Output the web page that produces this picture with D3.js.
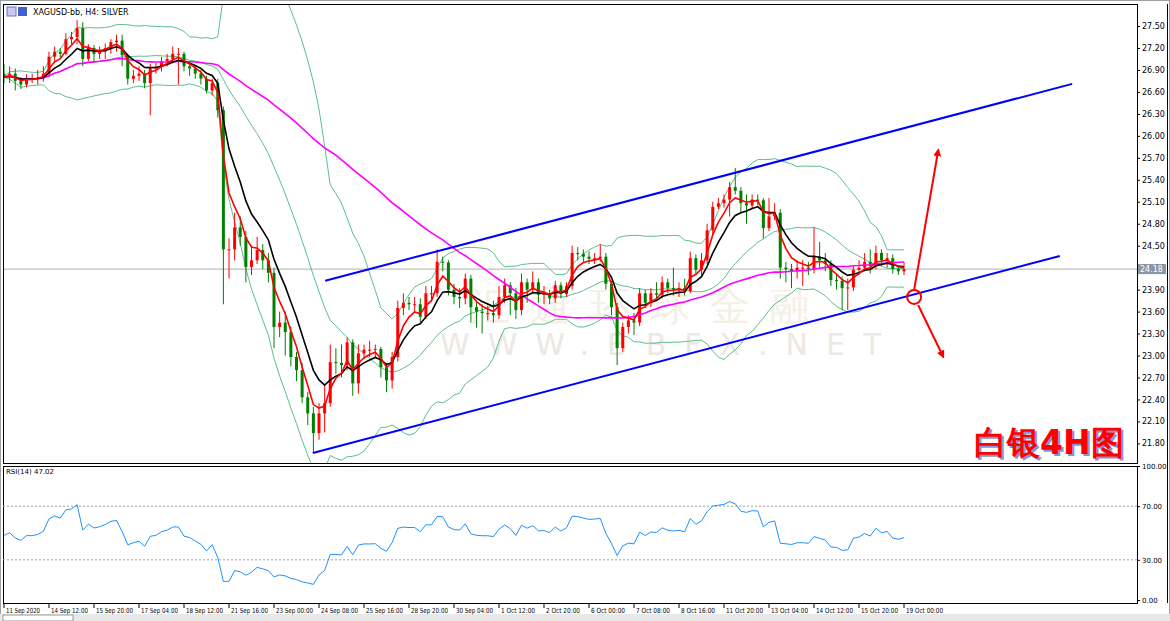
<!DOCTYPE html>
<html><head><meta charset="utf-8">
<script src="https://cdn.jsdelivr.net/npm/d3@7"></script>
<style>
body{margin:0;background:#fff;font-family:"DejaVu Sans",sans-serif;}
svg text{font-family:"DejaVu Sans",sans-serif;}
</style></head>
<body>
<svg id="chart" width="1170" height="621"></svg>
<script>
// ===== data (XAGUSD H4) =====
const firstOpen = 26.85;
const closes = [
 26.80,26.85,26.75,26.70,26.78,26.78,26.80,26.85,27.08,27.15,
 27.12,27.32,27.35,27.47,27.05,27.20,27.12,27.15,27.20,27.28,
 27.30,27.10,26.78,26.82,26.85,26.72,26.92,26.94,27.02,27.05,
 27.12,27.12,26.95,26.92,26.85,26.78,26.62,26.72,26.35,24.45,
 24.45,24.75,24.62,24.21,24.30,24.44,24.30,24.13,23.39,23.45,
 23.32,22.98,22.80,22.43,22.21,21.94,22.21,22.35,22.91,22.90,
 22.87,23.18,22.62,23.03,23.08,23.08,23.09,22.84,22.66,22.98,
 23.65,23.72,23.70,23.70,23.53,23.85,23.85,24.28,24.27,23.90,
 23.80,23.78,24.05,23.66,23.60,23.58,23.58,23.55,23.80,23.96,
 23.85,23.62,24.00,23.90,24.00,23.83,23.84,23.78,23.96,23.84,
 23.95,24.40,24.39,24.35,24.32,24.33,24.35,23.98,23.66,23.10,
 23.39,23.48,23.45,23.85,23.72,23.85,23.83,24.00,23.92,23.90,
 23.92,23.88,24.33,24.17,24.30,24.71,25.03,25.08,25.13,25.30,
 25.25,25.08,25.05,25.13,25.12,24.74,24.90,24.95,24.20,24.18,
 24.15,24.20,24.20,24.18,24.35,24.30,24.25,24.03,24.02,23.92,
 23.93,24.17,24.20,24.28,24.22,24.40,24.30,24.33,24.18,24.15,
 24.18];
const highs = [
 26.98,26.95,26.92,26.80,26.84,26.85,26.90,26.95,27.15,27.22,
 27.20,27.40,27.42,27.58,27.55,27.25,27.24,27.22,27.26,27.32,
 27.38,27.38,27.12,26.90,26.95,26.90,26.98,27.00,27.08,27.12,
 27.22,27.20,27.15,27.00,26.96,26.90,26.82,26.78,26.78,26.40,
 24.60,24.95,24.90,24.70,24.50,24.62,24.52,24.40,24.20,23.60,
 23.60,23.40,23.05,22.90,22.50,22.30,22.35,22.60,23.15,23.10,
 23.15,23.25,23.22,23.15,23.15,23.20,23.15,23.12,22.90,23.05,
 23.75,23.85,23.80,23.80,23.78,23.95,23.95,24.45,24.35,24.30,
 23.98,23.92,24.12,24.10,23.75,23.70,23.68,23.75,23.95,24.05,
 24.00,23.92,24.12,24.05,24.15,24.05,23.95,23.90,24.02,24.00,
 24.00,24.50,24.48,24.45,24.42,24.40,24.52,24.40,24.02,23.72,
 23.45,23.55,23.58,23.92,23.90,23.92,24.00,24.08,24.05,24.20,
 24.00,24.05,24.42,24.38,24.40,24.80,25.10,25.15,25.20,25.37,
 25.56,25.30,25.20,25.20,25.20,25.15,25.15,25.08,25.00,24.28,
 24.25,24.30,24.30,24.28,24.75,24.55,24.40,24.30,24.12,24.08,
 24.05,24.22,24.30,24.40,24.45,24.50,24.45,24.40,24.38,24.22,
 24.28];
const lows = [
 26.72,26.72,26.62,26.64,26.66,26.72,26.70,26.74,26.80,27.00,
 27.05,27.10,27.25,27.25,26.95,27.02,27.00,27.05,27.05,27.12,
 27.15,26.95,26.70,26.72,26.75,26.65,26.28,26.85,26.88,26.95,
 27.00,26.70,26.88,26.82,26.78,26.70,26.58,26.55,26.25,23.70,
 24.05,24.30,24.50,24.00,24.10,24.25,24.18,24.00,23.10,23.25,
 23.00,22.85,22.65,22.35,22.05,21.68,21.85,21.95,22.30,22.75,
 22.70,22.80,22.45,22.48,22.95,22.98,22.98,22.70,22.50,22.55,
 22.92,23.55,23.62,23.60,23.45,23.50,23.75,23.80,24.15,23.82,
 23.70,23.65,23.70,23.45,23.38,23.30,23.48,23.45,23.50,23.72,
 23.55,23.50,23.55,23.72,23.85,23.72,23.70,23.70,23.72,23.78,
 23.80,23.90,24.30,24.28,24.25,24.25,24.28,23.90,23.55,22.87,
 23.05,23.30,23.28,23.40,23.65,23.66,23.75,23.78,23.85,23.82,
 23.80,23.82,23.85,24.12,24.10,24.25,24.65,25.00,25.02,24.90,
 25.20,24.95,24.80,25.00,25.05,24.60,24.70,24.85,24.05,24.00,
 23.92,24.05,23.95,24.10,24.12,24.20,24.15,23.95,23.90,23.62,
 23.62,23.88,24.10,24.15,24.12,24.18,24.22,24.20,24.12,24.10,
 24.10];
const timeLabels = ["11 Sep 2020","14 Sep 12:00","15 Sep 20:00","17 Sep 04:00","18 Sep 12:00",
 "21 Sep 16:00","23 Sep 00:00","24 Sep 08:00","25 Sep 16:00","28 Sep 20:00","30 Sep 04:00",
 "1 Oct 12:00","2 Oct 20:00","6 Oct 00:00","7 Oct 08:00","8 Oct 16:00","11 Oct 20:00",
 "13 Oct 04:00","14 Oct 12:00","15 Oct 20:00","19 Oct 00:00"];
const priceTicks = [21.8,22.1,22.4,22.7,23.0,23.3,23.6,23.9,24.2,24.5,24.8,25.1,25.4,25.7,26.0,26.3,26.6,26.9,27.2,27.5];
const rsiTicks = [0,30,70,100];
const bidPrice = 24.18;
const rsiSeed = 0.05;   // assumed average move before the first visible bar
// channel lines and arrows: [bar index, price]
const channelUpper = [[57.1,24.02],[189.9,26.71]];
const channelLower = [[54.9,21.67],[187.7,24.36]];
const markCircle = [161.8,23.80];
const arrowUp = [166.1,25.81];
const arrowDown = [167.0,22.98];

// ===== indicators =====
const opens = closes.map((c,i)=> i===0 ? firstOpen : closes[i-1]);
function ema(arr,n){ const a=2/(n+1); let out=[]; arr.forEach((v,i)=>out.push(i===0?v:out[i-1]+a*(v-out[i-1]))); return out; }
function sma(arr,n){ return arr.map((v,i)=>d3.mean(arr.slice(Math.max(0,i-n+1),i+1))); }
const maFast = ema(closes,4), maMid = ema(closes,8), maSlow = sma(closes,60);
const bbMid = sma(closes,20);
const bbDev = closes.map((v,i)=>{ const s=closes.slice(Math.max(0,i-19),i+1); const m=d3.mean(s); return Math.sqrt(d3.mean(s,d=>(d-m)*(d-m))); });
const bbUp = bbMid.map((m,i)=>m+2*bbDev[i]), bbLo = bbMid.map((m,i)=>m-2*bbDev[i]);
function rsi(arr,n){ let g=rsiSeed,l=rsiSeed,out=[]; for(let i=0;i<arr.length;i++){
  const prev = i===0 ? firstOpen : arr[i-1];
  const d=arr[i]-prev, up=Math.max(d,0), dn=Math.max(-d,0);
  g=(g*(n-1)+up)/n; l=(l*(n-1)+dn)/n;
  out.push(l===0?100:100-100/(1+g/l)); } return out; }
const rsiVals = rsi(closes,14);

// ===== layout =====
const svg = d3.select("#chart");
const x = d3.scaleLinear().domain([0,160]).range([4,904]);
const y = d3.scaleLinear().domain([21.8,27.5]).range([443.4,26]);
const yr = d3.scaleLinear().domain([0,100]).range([600,466]);
const L=3, R=1137, T=4, B=463, RT=466, RB=603;

// frames
svg.append("rect").attr("x",0.5).attr("y",0.5).attr("width",1169).attr("height",620).attr("fill","#fff").attr("stroke","#a0a0a0");
svg.append("rect").attr("x",L+0.5).attr("y",T+0.5).attr("width",R-L).attr("height",B-T).attr("fill","none").attr("stroke","#000");
svg.append("rect").attr("x",L+0.5).attr("y",RT+0.5).attr("width",R-L).attr("height",RB-RT).attr("fill","none").attr("stroke","#000");
svg.append("line").attr("x1",1167.5).attr("x2",1167.5).attr("y1",4).attr("y2",603).attr("stroke","#000");
svg.append("rect").attr("x",0).attr("y",614).attr("width",1170).attr("height",7).attr("fill","#e8e8e8");
svg.append("rect").attr("x",3).attr("y",615).attr("width",70).attr("height",6).attr("fill","#fff").attr("stroke","#999");

svg.append("clipPath").attr("id","cp").append("rect").attr("x",L+1).attr("y",T+1).attr("width",R-L-1).attr("height",B-T-1);
const main = svg.append("g").attr("clip-path","url(#cp)");

// watermark
main.append("text").attr("x",440).attr("y",355).attr("font-size",30).attr("fill","#ece8e2").attr("letter-spacing",18).text("WWW.BBFX.NET");
main.append("text").attr("x",470).attr("y",320).attr("font-size",40).attr("fill","#f5efe6").attr("letter-spacing",20).text("汇通环球金融");

// bid line
main.append("line").attr("x1",L).attr("x2",R).attr("y1",y(bidPrice)).attr("y2",y(bidPrice)).attr("stroke","#b0b0b0");

// bollinger
const line = arr => d3.line().x((d,i)=>x(i)).y(d=>y(d))(arr);
[bbUp,bbMid,bbLo].forEach(a=>main.append("path").attr("d",line(a)).attr("fill","none").attr("stroke","#5cbf8a").attr("stroke-width",1));

// candles
const cg = main.append("g");
closes.forEach((c,i)=>{
  const o=opens[i], col = c>=o ? "#ff0000" : "#008000";
  cg.append("line").attr("x1",x(i)).attr("x2",x(i)).attr("y1",y(highs[i])).attr("y2",y(lows[i])).attr("stroke",col);
  const top=y(Math.max(o,c)), h=Math.max(1,Math.abs(y(o)-y(c)));
  cg.append("rect").attr("x",x(i)-1.5).attr("y",top).attr("width",3).attr("height",h).attr("fill",col);
});

// moving averages
main.append("path").attr("d",line(maSlow)).attr("fill","none").attr("stroke","#ff00ff").attr("stroke-width",1.6);
main.append("path").attr("d",line(maMid)).attr("fill","none").attr("stroke","#000").attr("stroke-width",1.6);
main.append("path").attr("d",line(maFast)).attr("fill","none").attr("stroke","#ff0000").attr("stroke-width",1.6);

// channel
[channelUpper,channelLower].forEach(c=>main.append("line")
  .attr("x1",x(c[0][0])).attr("y1",y(c[0][1])).attr("x2",x(c[1][0])).attr("y2",y(c[1][1]))
  .attr("stroke","#0000ff").attr("stroke-width",2));

// arrows
const defs = svg.append("defs");
defs.append("marker").attr("id","ah").attr("viewBox","0 0 10 10").attr("refX",8).attr("refY",5)
  .attr("markerWidth",4).attr("markerHeight",4).attr("orient","auto")
  .append("path").attr("d","M0,0L10,5L0,10z").attr("fill","#ff0000");
const cx=x(markCircle[0]), cy=y(markCircle[1]);
main.append("circle").attr("cx",cx).attr("cy",cy).attr("r",7).attr("fill","none").attr("stroke","#ff0000").attr("stroke-width",2);
main.append("line").attr("x1",cx).attr("y1",cy-7).attr("x2",x(arrowUp[0])).attr("y2",y(arrowUp[1]))
  .attr("stroke","#ff0000").attr("stroke-width",2).attr("marker-end","url(#ah)");
main.append("line").attr("x1",cx+4).attr("y1",cy+8).attr("x2",x(arrowDown[0])).attr("y2",y(arrowDown[1]))
  .attr("stroke","#ff0000").attr("stroke-width",2).attr("marker-end","url(#ah)");

// title text
main.append("text").attr("x",976).attr("y",456).attr("font-family","Noto Sans CJK SC").attr("font-weight",900)
  .attr("font-size",33).attr("fill","#3050c0").attr("opacity",0.6).text("白银4H图");
main.append("text").attr("x",974).attr("y",454).attr("font-family","Noto Sans CJK SC").attr("font-weight",900)
  .attr("font-size",33).attr("fill","#ff0000").text("白银4H图");

// top-left label
svg.append("rect").attr("x",7).attr("y",7).attr("width",9).attr("height",9).attr("fill","#c9c9ef").attr("stroke","#7070c0");
svg.append("rect").attr("x",18).attr("y",7).attr("width",9).attr("height",9).attr("fill","#4060d0");
svg.append("text").attr("x",33).attr("y",15).attr("font-size",8).attr("fill","#000").text("XAGUSD-bb, H4:  SILVER");

// price axis
const pa = svg.append("g").attr("transform",`translate(${R},0)`)
  .call(d3.axisRight(y).tickValues(priceTicks).tickSize(3).tickFormat(d3.format(".2f")));
pa.select(".domain").remove();
pa.selectAll("text").attr("font-size",8).attr("x",5).attr("fill","#000");
svg.append("rect").attr("x",R+1).attr("y",y(bidPrice)-5).attr("width",28).attr("height",10).attr("fill","#8a95a5");
svg.append("text").attr("x",R+3).attr("y",y(bidPrice)+3).attr("font-size",8).attr("fill","#fff").text(bidPrice.toFixed(2));

// RSI panel
const rg = svg.append("g");
[30,70].forEach(v=>rg.append("line").attr("x1",L).attr("x2",R).attr("y1",yr(v)).attr("y2",yr(v))
  .attr("stroke","#a0a0a0").attr("stroke-dasharray","2,2"));
rg.append("path").attr("d",d3.line().x((d,i)=>x(i)).y(d=>yr(d))(rsiVals))
  .attr("fill","none").attr("stroke","#1e90ff").attr("stroke-width",1);
rg.append("text").attr("x",6).attr("y",474).attr("font-size",7).text("RSI(14) 47.02");
const ra = svg.append("g").attr("transform",`translate(${R},0)`)
  .call(d3.axisRight(yr).tickValues(rsiTicks).tickSize(3).tickFormat(d3.format(".2f")));
ra.select(".domain").remove();
ra.selectAll("text").attr("font-size",7).attr("x",5).attr("fill","#000");

// time axis
const tg = svg.append("g");
timeLabels.forEach((t,k)=>{
  const xi = x(k*8);
  tg.append("line").attr("x1",xi).attr("x2",xi).attr("y1",RB).attr("y2",RB+5).attr("stroke","#000");
  tg.append("text").attr("x",xi+2).attr("y",RB+10).attr("font-size",7)
    .attr("font-family","Liberation Sans Narrow, DejaVu Sans Condensed, sans-serif")
    .attr("textLength",t.length>11?37:34).attr("lengthAdjust","spacingAndGlyphs").text(t);
});
</script>
</body></html>
